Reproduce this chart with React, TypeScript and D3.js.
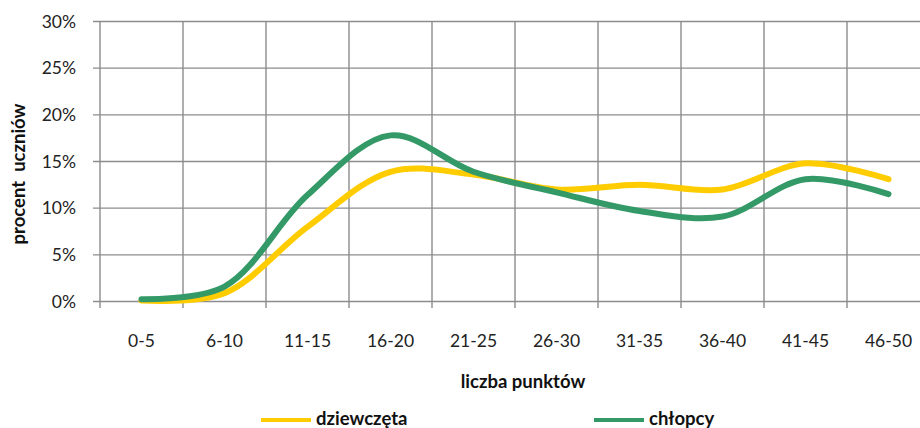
import React from "react";
import * as d3 from "d3";

const categories = ["0-5", "6-10", "11-15", "16-20", "21-25", "26-30", "31-35", "36-40", "41-45", "46-50"];
const girls = [0.1, 0.9, 8.0, 13.9, 13.6, 12.0, 12.5, 12.0, 14.8, 13.1];
const boys = [0.25, 1.6, 11.4, 17.8, 13.9, 11.7, 9.7, 9.1, 13.1, 11.5];
const yTicks = [0, 5, 10, 15, 20, 25, 30];

const W = 920, H = 428;
const left = 100, right = 930, top = 21.5, bottom = 301.5;
const FONT = "Lato, 'Open Sans', sans-serif";
const FS = 17.5;
const FB = 18.5;

export default function App() {
  const x = d3.scaleBand().domain(categories).range([left, right]);
  const y = d3.scaleLinear().domain([0, 30]).range([bottom, top]);
  const line = d3
    .line<number>()
    .x((_, i) => (x(categories[i]) as number) + x.bandwidth() / 2)
    .y((d) => y(d))
    .curve(d3.curveCatmullRom.alpha(0.5));
  const grid = "#8c8c8c";
  const bounds = categories.map((c) => x(c) as number).concat([right]);
  return (
    <svg width={W} height={H} style={{ position: "absolute", left: 0, top: 0, background: "#fff" }}>
      {yTicks.map((t) => (
        <g key={t}>
          <line x1={93} x2={W} y1={y(t)} y2={y(t)} stroke={grid} strokeWidth={1.4} />
          <text x={76} y={y(t)} dy="0.36em" textAnchor="end" fontSize={FS} fontFamily={FONT} fill="#222">
            {t}%
          </text>
        </g>
      ))}
      {bounds.map((b, i) => (
        <line key={i} x1={b} x2={b} y1={top} y2={bottom + 6.5} stroke={grid} strokeWidth={1.4} />
      ))}
      {categories.map((c) => (
        <text key={c} x={(x(c) as number) + x.bandwidth() / 2} y={346.5} textAnchor="middle" fontSize={FS} fontFamily={FONT} fill="#222">
          {c}
        </text>
      ))}
      <path d={line(girls) || ""} fill="none" stroke="#FFCC00" strokeWidth={6} strokeLinecap="round" />
      <path d={line(boys) || ""} fill="none" stroke="#339966" strokeWidth={6} strokeLinecap="round" />
      <text transform="translate(25,174) rotate(-90)" textAnchor="middle" fontSize={FB} fontWeight="bold" fontFamily={FONT} fill="#111" style={{ whiteSpace: "pre" }}>
        {"procent  uczniów"}
      </text>
      <text x={523} y={388} textAnchor="middle" fontSize={FB} fontWeight="bold" fontFamily={FONT} fill="#111">
        liczba punktów
      </text>
      <line x1={261} x2={311} y1={420} y2={420} stroke="#FFCC00" strokeWidth={4} />
      <text x={316} y={425} fontSize={FB} fontWeight="bold" fontFamily={FONT} fill="#111">dziewczęta</text>
      <line x1={594} x2={644} y1={420} y2={420} stroke="#339966" strokeWidth={4} />
      <text x={649} y={425} fontSize={FB} fontWeight="bold" fontFamily={FONT} fill="#111">chłopcy</text>
    </svg>
  );
}
